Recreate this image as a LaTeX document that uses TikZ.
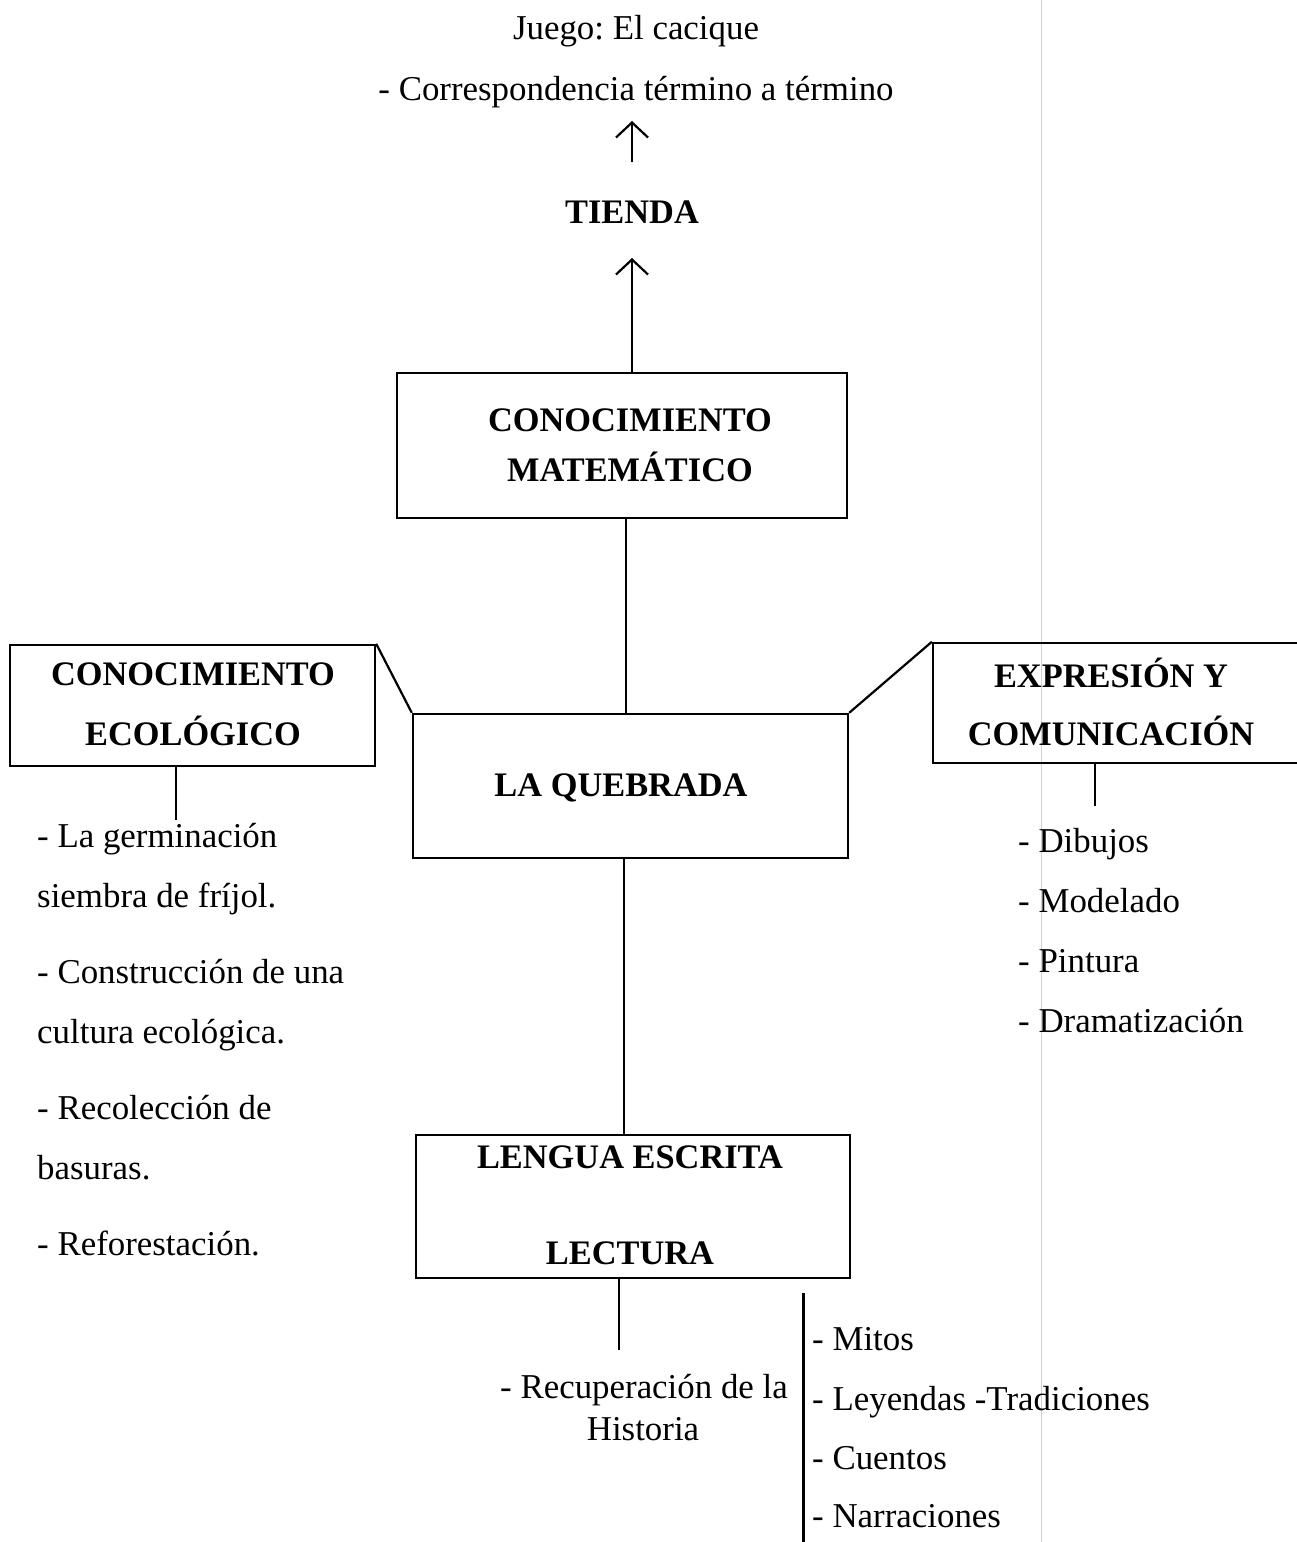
\documentclass[tikz,border=0pt]{standalone}
\usepackage{fontspec}
\setmainfont{Liberation Serif}
\usetikzlibrary{arrows.meta}
\frenchspacing
\tikzset{
  box/.style={draw, line width=2.4bp, inner sep=0pt},
  conn/.style={line width=2.2bp},
  arr/.style={line width=2.2bp, -{Straight Barb[length=15bp,width=32bp,line width=2.2bp]}},
  txt/.style={inner sep=0pt, font=\fontsize{35}{42}\selectfont},
  head/.style={inner sep=0pt, font=\fontsize{34.5}{42}\selectfont\bfseries},
}
\begin{document}
\begin{tikzpicture}[x=1bp,y=-1bp]
\useasboundingbox (0,0) rectangle (1296,1542);
\fill[white] (0,0) rectangle (1296,1542);
% faint scan fold line
\draw[gray!35, line width=1bp] (1041,0) -- (1041,1542);

% top texts
\node[txt, anchor=base] (juego) at (636,40) {Juego: El cacique};
\node[txt, anchor=base] (corr) at (636,101) {- Correspondencia término a término};
\node[head, anchor=base] (tienda) at (632,223) {TIENDA};

% boxes
\node[box, minimum width=450bp, minimum height=145bp] (mat) at (622,445.5) {};
\node[head, anchor=base] (matA) at (630,431) {CONOCIMIENTO};
\node[head, anchor=base] (matB) at (630,481) {MATEMÁTICO};

\node[box, minimum width=435bp, minimum height=144bp] (queb) at (630.5,786) {};
\node[head, anchor=base] (quebT) at (621,796) {LA QUEBRADA};

\node[box, minimum width=365bp, minimum height=121bp] (eco) at (192.5,705.5) {};
\node[head, anchor=base] (ecoA) at (193,685) {CONOCIMIENTO};
\node[head, anchor=base] (ecoB) at (193,745) {ECOLÓGICO};

\node[box, minimum width=368bp, minimum height=120bp] (exp) at (1117,703) {};
\node[head, anchor=base] (expA) at (1111,687) {EXPRESIÓN Y};
\node[head, anchor=base] (expB) at (1111,745) {COMUNICACIÓN};

\node[box, minimum width=434bp, minimum height=143bp] (len) at (633,1206.5) {};
\node[head, anchor=base] (lenA) at (630,1168) {LENGUA ESCRITA};
\node[head, anchor=base] (lenB) at (630,1264) {LECTURA};

% arrows
\coordinate (a1s) at (632,162);
\coordinate (a1e) at (632,121);
\coordinate (a2e) at (632,258);
\draw[arr] (a1s) -- (a1e);
\draw[arr] (mat.north -| a2e) -- (a2e);

% connectors between boxes
\draw[conn] (mat.south -| 626,0) -- (queb.north -| 626,0);
\draw[conn] (eco.north east) -- (queb.north west);
\draw[conn] (exp.north west) -- (queb.north east);
\draw[conn] (queb.south -| 624,0) -- (len.north -| 624,0);

% left list
\coordinate (ecoEnd) at (176,820);
\draw[conn] (eco.south -| ecoEnd) -- (ecoEnd);
\node[txt, anchor=base west] (l1) at (37,847) {- La germinación};
\node[txt, anchor=base west] (l2) at (37,907) {siembra de fríjol.};
\node[txt, anchor=base west] (l3) at (37,983) {- Construcción de una};
\node[txt, anchor=base west] (l4) at (37,1043) {cultura ecológica.};
\node[txt, anchor=base west] (l5) at (37,1119) {- Recolección de};
\node[txt, anchor=base west] (l6) at (37,1179) {basuras.};
\node[txt, anchor=base west] (l7) at (37,1255) {- Reforestación.};

% right list
\coordinate (expEnd) at (1095,806);
\draw[conn] (exp.south -| expEnd) -- (expEnd);
\node[txt, anchor=base west] (r1) at (1018,852) {- Dibujos};
\node[txt, anchor=base west] (r2) at (1018,912) {- Modelado};
\node[txt, anchor=base west] (r3) at (1018,972) {- Pintura};
\node[txt, anchor=base west] (r4) at (1018,1032) {- Dramatización};

% bottom
\coordinate (lenEnd) at (619,1350);
\draw[conn] (len.south -| lenEnd) -- (lenEnd);
\node[txt, anchor=base] (rec1) at (644,1398) {- Recuperación de la};
\node[txt, anchor=base] (rec2) at (643,1440) {Historia};
\coordinate (vbTop) at (803,1293);
\coordinate (vbBot) at (803,1542);
\draw[line width=3bp] (vbTop) -- (vbBot);
\node[txt, anchor=base west] (b1) at (812,1350) {- Mitos};
\node[txt, anchor=base west] (b2) at (812,1410) {- Leyendas -Tradiciones};
\node[txt, anchor=base west] (b3) at (812,1469) {- Cuentos};
\node[txt, anchor=base west] (b4) at (812,1527) {- Narraciones};
\end{tikzpicture}
\end{document}
